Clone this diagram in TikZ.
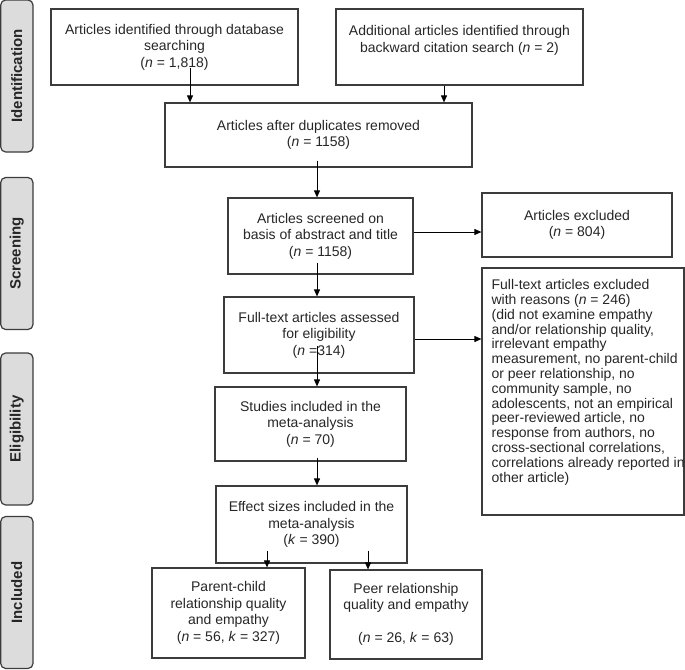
\documentclass[tikz,border=0pt]{standalone}
\usepackage{fontspec}
\setmainfont{Liberation Sans}
\usepackage{xcolor}
\usetikzlibrary{shapes,arrows.meta,positioning}

\definecolor{boxline}{HTML}{3C3C3C}
\definecolor{stagefill}{HTML}{DCDCDC}
\definecolor{textgray}{HTML}{262626}

\begin{document}
\begin{tikzpicture}[x=1pt, y=-1pt,
        every node/.style={font=\fontsize{14}{16.5}\selectfont, text=textgray},
        box/.style={draw=boxline, line width=1.2pt, align=center, inner sep=2pt},
        stage/.style={draw=boxline, fill=stagefill, line width=1.2pt, rounded corners=5pt,
            minimum width=152pt, minimum height=32.3pt, rotate=90,
            font=\fontsize{15}{18}\selectfont\bfseries},
        arr/.style={draw=black, line width=0.9pt, -{Triangle[length=7pt,width=6pt]}}]

    \useasboundingbox (0,0) rectangle (685,669);

    % stages on the left
    \node[stage] (identification) at (16.85,76) {Identification};
    \node[stage] (screening) at (16.85,253.5) {Screening};
    \node[stage] (eligibility) at (16.85,429) {Eligibility};
    \node[stage] (included) at (16.85,592.5) {Included};

    % flow boxes
    \node[box, minimum width=247pt, minimum height=76pt] (idb) at (174.5,47)
        {Articles identified through database\\searching\\(\textit{n} = 1,818)};
    \node[box, minimum width=247pt, minimum height=76pt] (add) at (459.5,47)
        {Additional articles identified through\\backward citation search (\textit{n} = 2)\\ \mbox{}};
    \node[box, minimum width=307pt, minimum height=64pt] (dup) at (318.5,135)
        {Articles after duplicates removed\\(\textit{n} = 1158)};
    \node[box, minimum width=185pt, minimum height=76pt] (scr) at (320.5,236)
        {Articles screened on\\basis of abstract and title\\(\textit{n} = 1158)};
    \node[box, minimum width=190pt, minimum height=64pt] (exc) at (577,225)
        {Articles excluded\\(\textit{n} = 804)};
    \node[box, minimum width=190pt, minimum height=76pt] (full) at (319,335)
        {Full-text articles assessed\\for eligibility\\(\textit{n} =314)};
    \node[box, minimum width=202pt, minimum height=247pt,
        label={[anchor=north west, align=left, inner sep=0pt, xshift=10pt, yshift=-12pt,
            font=\fontsize{14}{14.8}\selectfont]north west:Full-text articles excluded\\
            with reasons (\textit{n} = 246)\\(did not examine empathy\\and/or relationship quality,\\
            irrelevant empathy\\measurement, no parent-child\\or peer relationship, no\\
            community sample, no\\adolescents, not an empirical\\peer-reviewed article, no\\
            response from authors, no\\cross-sectional correlations,\\
            correlations already reported in\\other article)}] (fexc) at (583,391.5) {};
    \node[box, minimum width=191pt, minimum height=74pt] (stud) at (310.5,424)
        {Studies included in the\\meta-analysis\\(\textit{n} = 70)};
    \node[box, minimum width=191pt, minimum height=77pt] (eff) at (311.5,524.5)
        {Effect sizes included in the\\meta-analysis\\(\textit{k} = 390)};
    \node[box, minimum width=153pt, minimum height=90pt] (par) at (228.5,613)
        {Parent-child\\relationship quality\\and empathy\\(\textit{n} = 56, \textit{k} = 327)};
    \node[box, minimum width=152pt, minimum height=89pt] (peer) at (406,614.5)
        {Peer relationship\\quality and empathy\\ \mbox{}\\(\textit{n} = 26, \textit{k} = 63)};

    % arrows
    \coordinate (s1) at ([xshift=15.5pt,yshift=18pt]idb.south);
    \coordinate (s2) at ([xshift=-15.5pt]add.south);
    \coordinate (s3) at ([xshift=-1.5pt,yshift=7pt]dup.south);
    \coordinate (s4) at ([yshift=4pt]scr.east);
    \coordinate (s5) at ([xshift=-3.5pt,yshift=12pt]scr.south);
    \coordinate (s6) at ([yshift=-4pt]full.east);
    \coordinate (s7) at ([xshift=-2pt,yshift=28pt]full.south);
    \coordinate (s8) at ([xshift=6.5pt,yshift=4pt]stud.south);
    \coordinate (s9) at ([xshift=-44.5pt,yshift=13pt]eff.south);
    \coordinate (s10) at ([xshift=56.5pt,yshift=13pt]eff.south);

    \draw[arr] (s1) -- (s1 |- dup.north);
    \draw[arr] (s2) -- (s2 |- dup.north);
    \draw[arr] (s3) -- (s3 |- scr.north);
    \draw[arr] (s4) -- (s4 -| exc.west);
    \draw[arr] (s5) -- (s5 |- full.north);
    \draw[arr] (s6) -- (s6 -| fexc.west);
    \draw[arr] (s7) -- (s7 |- stud.north);
    \draw[arr] (s8) -- (s8 |- eff.north);
    \draw[arr] (s9) -- (s9 |- par.north);
    \draw[arr] (s10) -- (s10 |- peer.north);
\end{tikzpicture}
\end{document}
